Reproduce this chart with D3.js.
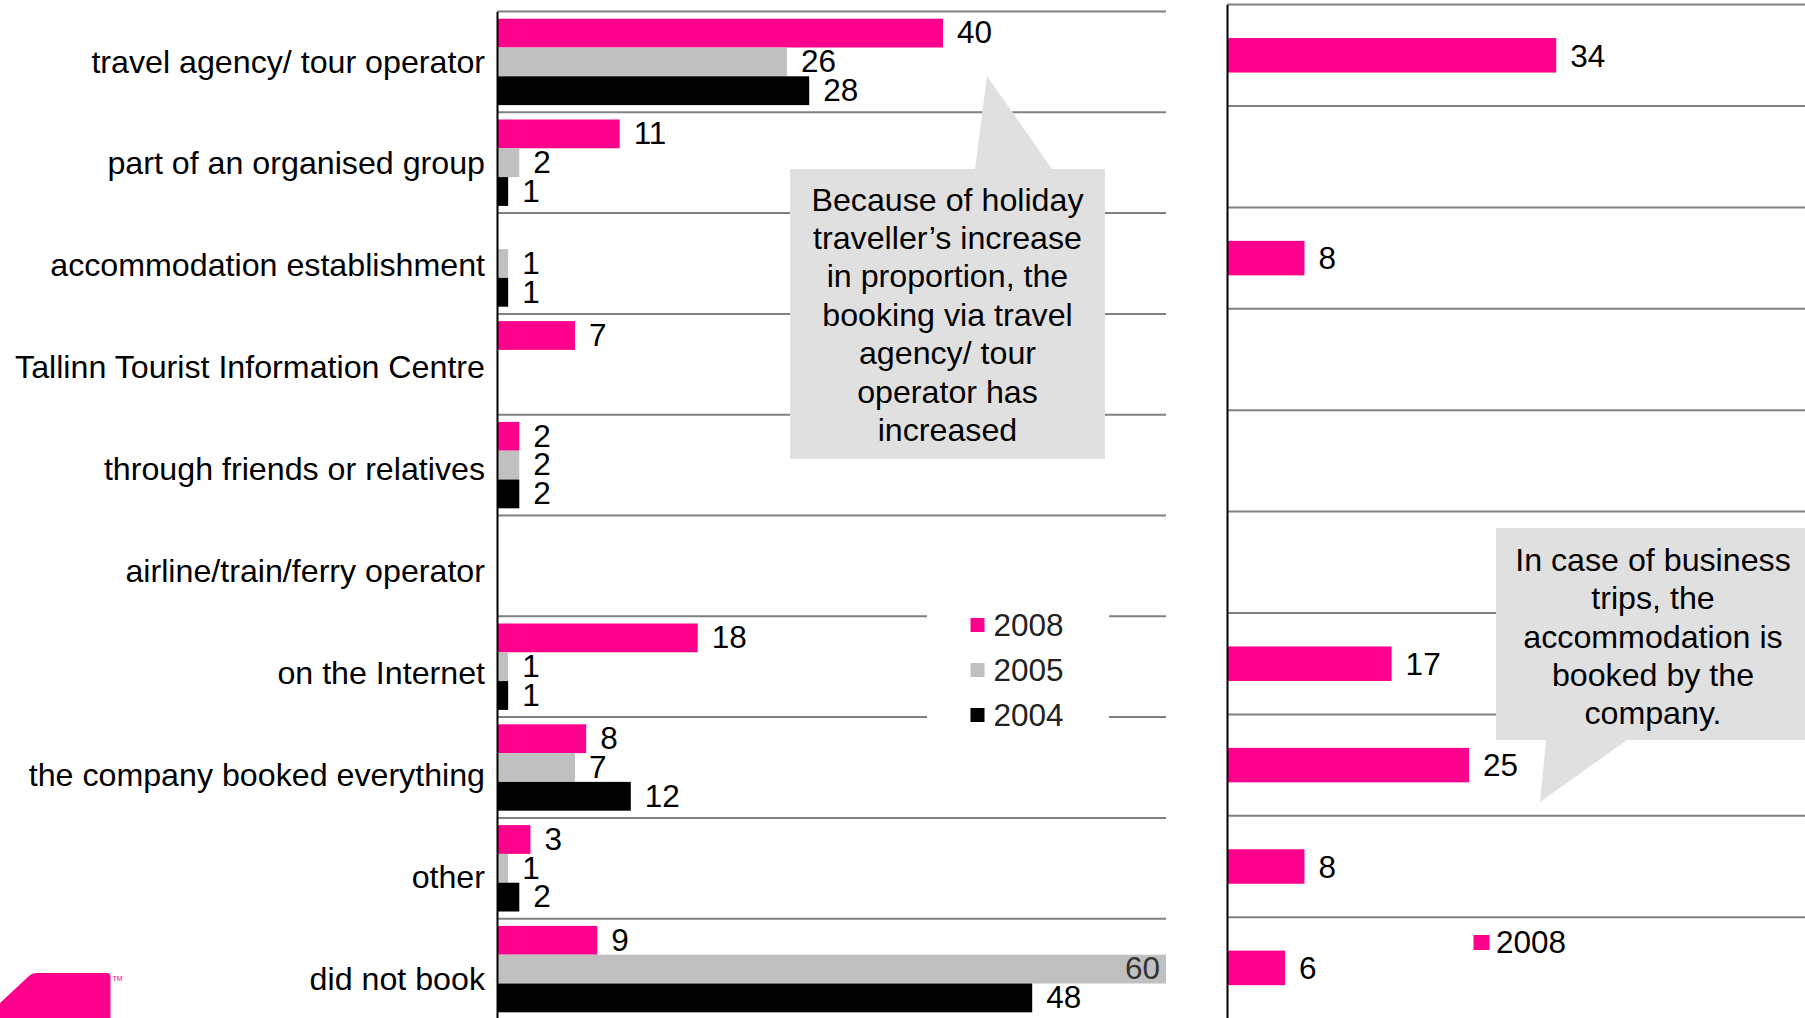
<!DOCTYPE html>
<html><head><meta charset="utf-8">
<script src="https://cdn.jsdelivr.net/npm/d3@7"></script>
<style>html,body{margin:0;padding:0;background:#fff;overflow:hidden}
svg{display:block;font-family:"Liberation Sans",Arial,sans-serif}</style>
</head><body><svg id="c" width="1805" height="1018"></svg>
<script>
const categories = ["travel agency/ tour operator","part of an organised group","accommodation establishment","Tallinn Tourist Information Centre","through friends or relatives","airline/train/ferry operator","on the Internet","the company booked everything","other","did not book"];
const seriesNames = ["2008","2005","2004"];
const values2008 = [40,11,null,7,2,null,18,8,3,9];
const values2005 = [26,2,1,null,2,null,1,7,1,60];
const values2004 = [28,1,1,null,2,null,1,12,2,48];
const business2008 = [34,null,8,null,null,null,17,25,8,6];
const callout1 = ["Because of holiday","traveller\u2019s increase","in proportion, the","booking via travel","agency/ tour","operator has","increased"];
const callout2 = ["In case of business","trips, the","accommodation is","booked by the","company."];

const colors = {"2008":"#FF008C","2005":"#C0C0C0","2004":"#000000"};
const FS = "31.5px";
const FSL = "32.2px";
const svg = d3.select("#c");

// ---------- left chart ----------
const xL = d3.scaleLinear().domain([0,60]).range([497,1166]);
const yL = d3.scaleBand().domain(categories).range([11.5,1019.5]).padding(0);
const yLabel = d3.scaleBand().domain(categories).range([11.3,1030.3]).padding(0);
const ySub = d3.scaleBand().domain(seriesNames).range([0,yL.bandwidth()]).paddingInner(0).paddingOuter(0.25);
const seriesL = {"2008":values2008,"2005":values2005,"2004":values2004};

const gL = svg.append("g");
gL.selectAll("line.grid").data(categories).join("line")
  .attr("x1",xL(0)).attr("x2",xL.range()[1])
  .attr("y1",d=>yL(d)).attr("y2",d=>yL(d))
  .attr("stroke","#808080").attr("stroke-width",2);

const barData = [];
seriesNames.forEach(s=>{
  seriesL[s].forEach((v,i)=>{ if(v!=null) barData.push({s,c:categories[i],v}); });
});
gL.selectAll("rect.bar").data(barData).join("rect")
  .attr("x",xL(0)).attr("y",d=>yL(d.c)+ySub(d.s))
  .attr("width",d=>xL(d.v)-xL(0)).attr("height",ySub.bandwidth())
  .attr("fill",d=>colors[d.s]);
gL.selectAll("text.val").data(barData).join("text")
  .attr("font-size",FS)
  .each(function(d){
    const inside = xL(d.v)+50 > xL.range()[1];
    d3.select(this)
      .attr("x", inside ? xL(d.v)-6 : xL(d.v)+14)
      .attr("text-anchor", inside ? "end" : "start")
      .attr("fill", inside ? "#333" : "#000");
  })
  .attr("y",d=>yL(d.c)+ySub(d.s)+ySub.bandwidth()/2).attr("dy","0.33em")
  .text(d=>d.v);

// axis line
const axL = gL.append("g").attr("transform",`translate(${xL(0)},0)`)
  .call(d3.axisLeft(yL).tickValues([]).tickSizeOuter(0));
axL.select(".domain").attr("stroke","#000").attr("stroke-width",2);
// category labels
const axLab = gL.append("g").attr("transform",`translate(${xL(0)},0)`)
  .call(d3.axisLeft(yLabel).tickSize(0).tickPadding(12));
axLab.select(".domain").remove();
axLab.selectAll("text").attr("font-size",FSL).attr("fill","#000").attr("font-family","Liberation Sans, Arial, sans-serif");

// legend left
const lg = gL.append("g");
lg.append("rect").attr("x",927).attr("y",600).attr("width",182).attr("height",140).attr("fill","#fff");
seriesNames.forEach((s,i)=>{
  const cy = 625 + i*45;
  lg.append("rect").attr("x",970.5).attr("y",cy-7).attr("width",14).attr("height",14).attr("fill",colors[s]);
  lg.append("text").attr("x",993.5).attr("y",cy).attr("dy","0.36em").attr("font-size",FS).attr("fill","#222").text(s);
});

// callout 1
gL.append("path").attr("d","M790,169 L975,169 L987,76 L1052,169 L1105,169 L1105,459 L790,459 Z").attr("fill","#E0E0E0");
gL.append("text").attr("text-anchor","middle").attr("font-size",FSL).attr("fill","#000")
  .selectAll("tspan").data(callout1).join("tspan")
  .attr("x",947.5).attr("y",(d,i)=>199+i*38.4).attr("dy","0.36em").text(d=>d);

// ---------- right chart ----------
const xR = d3.scaleLinear().domain([0,60]).range([1227,1808]);
const yR = d3.scaleBand().domain(categories).range([4.6,1018.6]).padding(0);
const barH = 34.5;
const gR = svg.append("g");
gR.selectAll("line.grid").data(categories).join("line")
  .attr("x1",xR(0)).attr("x2",1805)
  .attr("y1",d=>yR(d)).attr("y2",d=>yR(d))
  .attr("stroke","#808080").attr("stroke-width",2);
const bData = business2008.map((v,i)=>({c:categories[i],v})).filter(d=>d.v!=null);
gR.selectAll("rect.bar").data(bData).join("rect")
  .attr("x",xR(0)).attr("y",d=>yR(d.c)+(yR.bandwidth()-barH)/2)
  .attr("width",d=>xR(d.v)-xR(0)).attr("height",barH).attr("fill",colors["2008"]);
gR.selectAll("text.val").data(bData).join("text")
  .attr("x",d=>xR(d.v)+14).attr("y",d=>yR(d.c)+yR.bandwidth()/2).attr("dy","0.36em")
  .attr("font-size",FS).attr("fill","#000").text(d=>d.v);
const axR = gR.append("g").attr("transform",`translate(${xR(0)},0)`)
  .call(d3.axisLeft(yR).tickValues([]).tickSizeOuter(0));
axR.select(".domain").attr("stroke","#000").attr("stroke-width",2);

// legend right
gR.append("rect").attr("x",1473.5).attr("y",935).attr("width",16).attr("height",15).attr("fill",colors["2008"]);
gR.append("text").attr("x",1496).attr("y",942).attr("dy","0.36em").attr("font-size",FS).attr("fill","#000").text(seriesNames[0]);

// callout 2
gR.append("path").attr("d","M1496,528 L1805,528 L1805,740 L1627,740 L1540,802 L1546,740 L1496,740 Z").attr("fill","#E0E0E0");
gR.append("text").attr("text-anchor","middle").attr("font-size",FSL).attr("fill","#000")
  .selectAll("tspan").data(callout2).join("tspan")
  .attr("x",1653).attr("y",(d,i)=>559.5+i*38.3).attr("dy","0.36em").text(d=>d);

// logo
svg.append("path").attr("d","M0,1003 L29,976 Q32,973 37,973 L107,973 Q110.5,973 110.5,977 L110.5,1018 L0,1018 Z").attr("fill","#FF008C");
svg.append("text").attr("x",112.5).attr("y",980.5).attr("font-size","7px").attr("fill","#FF008C").text("TM");
</script></body></html>
